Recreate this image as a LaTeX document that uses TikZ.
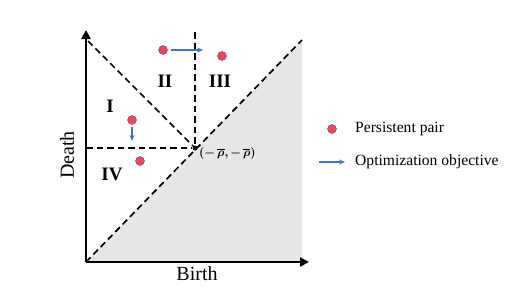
\documentclass[tikz,border=0pt]{standalone}
\usepackage{fontspec}
\setmainfont{Liberation Serif}
\usepackage{amsmath}
\usepackage{bm}
\usetikzlibrary{arrows.meta}

\definecolor{pairred}{RGB}{232,72,94}
\definecolor{pairedge}{RGB}{140,70,110}
\definecolor{objblue}{RGB}{68,114,196}
\definecolor{diaggray}{RGB}{230,230,230}

\begin{document}
\begin{tikzpicture}[x=1pt, y=-1pt]
		\tikzstyle{every node}=[align=center, inner sep=1pt]
		\tikzstyle{pair}=[circle, fill=pairred, draw=pairedge, line width=0.4pt, minimum size=9pt, inner sep=0pt]
		\tikzstyle{objective}=[-{Stealth[length=6pt, width=5pt]}, objblue, line width=1.4pt]
		\tikzstyle{region}=[font=\bfseries\fontsize{19}{19}\selectfont]
		\tikzstyle{axis}=[-{Triangle[length=9pt, width=9pt]}, line width=2.8pt]
		\tikzstyle{border}=[line width=1.7pt, dash pattern=on 6.5pt off 4pt]
		\useasboundingbox (0, 0) rectangle (530, 298);

		\coordinate (o) at (86, 262);
		\coordinate (xend) at (309, 262);
		\coordinate (yend) at (86, 30);
		\coordinate (dtop) at (302, 40);
		\coordinate (dcorner) at (302, 262);
		\coordinate (atop) at (88, 41);
		\coordinate (hleft) at (86, 148);
		\coordinate (vtop) at (195, 32);

		\fill [diaggray] (o) -- (dcorner) -- (dtop) -- cycle;

		\node (rho) at (195, 148) [circle, fill=black, minimum size=5pt, inner sep=0pt] {};
		\node (rholabel) [anchor=west] at (198, 153) {\fontsize{12.5}{12.5}\selectfont$\boldsymbol{(-\,\overline{\rho},-\,\overline{\rho})}$};

		\draw [border] (o) -- (dtop);
		\draw [border] (atop) -- (rho);
		\draw [border] (hleft) -- (rho);
		\draw [border] (vtop) -- (rho);

		\draw [axis] (o) -- (xend);
		\draw [axis] (o) -- (yend);

		\node (birth) at (197, 274) {\fontsize{20}{20}\selectfont Birth};
		\node (death) [rotate=90] at (67, 155) {\fontsize{20}{20}\selectfont Death};

		\node (one) [region] at (110, 106) {I};
		\node (two) [region] at (165, 81) {II};
		\node (three) [region] at (220, 81) {III};
		\node (four) [region] at (112, 174) {IV};

		\node (p1) [pair] at (163, 50) {};
		\node (p2) [pair] at (222, 56) {};
		\node (p3) [pair] at (132, 120) {};
		\node (p4) [pair] at (140, 161) {};
		\coordinate (p1goal) at (203, 50);
		\coordinate (p3goal) at (132, 141);
		\draw [objective] (p1) ++(8, 0) -- (p1goal);
		\draw [objective] (p3) ++(0, 7) -- (p3goal);

		\node (lpair) [pair] at (332, 129) {};
		\node (lpairtext) [anchor=west] at (354, 129) {\fontsize{15.6}{15.6}\selectfont Persistent pair};
		\coordinate (lobjstart) at (319, 162);
		\coordinate (lobjend) at (345, 162);
		\draw [objective] (lobjstart) -- (lobjend);
		\node (lobjtext) [anchor=west] at (354, 162) {\fontsize{15.6}{15.6}\selectfont Optimization objective};
	\end{tikzpicture}
\end{document}
